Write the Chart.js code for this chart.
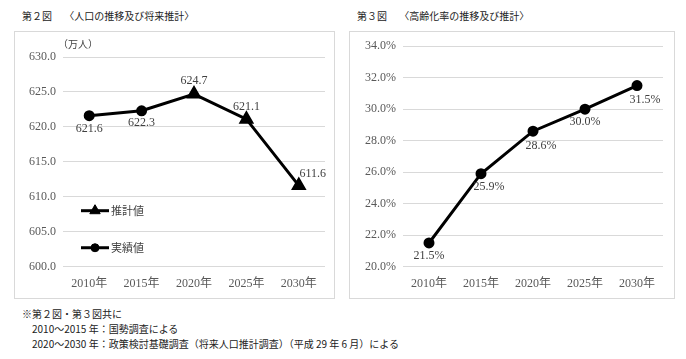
<!DOCTYPE html>
<html>
<head>
<meta charset="utf-8">
<script src="https://cdn.jsdelivr.net/npm/chart.js@4.4.1/dist/chart.umd.min.js"></script>
<style>
  body { margin: 0; background: #fff; width: 686px; height: 359px; position: relative; overflow: hidden;
         font-family: "Noto Sans CJK JP", sans-serif; color: #222; }
  .ttl { position: absolute; top: 8px; font-size: 10px; white-space: pre; }
  .box { position: absolute; border: 1px solid #d9d9d9; top: 31px; height: 266px; }
  .box canvas { position: absolute; left: 0; top: 0; }
  .unit { position: absolute; font-size: 10px; color: #404040; }
  .note { position: absolute; font-size: 10px; white-space: pre; }
</style>
</head>
<body>
<div class="ttl" style="left:22px">第２図　 〈人口の推移及び将来推計〉</div>
<div class="ttl" style="left:357px">第３図　 〈高齢化率の推移及び推計〉</div>

<div class="box" style="left:14px; width:319px;">
  <canvas id="popChart" width="319" height="266"></canvas>
  <div class="unit" style="left:43px; top:4px;">（万人）</div>
</div>
<div class="box" style="left:349px; width:324px;">
  <canvas id="ageChart" width="324" height="266"></canvas>
</div>

<div class="note" style="left:22px; top:306px;">※第２図・第３図共に</div>
<div class="note" style="left:32px; top:321px;">2010～2015 年：国勢調査による</div>
<div class="note" style="left:32px; top:336px;">2020～2030 年：政策検討基礎調査（将来人口推計調査）（平成 29 年 6 月）による</div>

<script>
var years = ["2010年", "2015年", "2020年", "2025年", "2030年"];

// 第２図 人口（万人）
var popActual = [621.6, 622.3, null, null, null];
var popEstimate = [null, 622.3, 624.7, 621.1, 611.6];
var popLabels = ["621.6", "622.3", "624.7", "621.1", "611.6"];

// 第３図 高齢化率（%）
var agingRate = [21.5, 25.9, 28.6, 30.0, 31.5];
var agingLabels = ["21.5%", "25.9%", "28.6%", "30.0%", "31.5%"];

var serif = "'Liberation Serif', 'Noto Sans CJK JP', serif";
var tickColor = "#595959";

// where each value label sits relative to its point [dx, dy]
var popLabelPos = [[0, 13], [0, 12], [0, -13], [0, -12], [14, -12]];
var agingLabelPos = [[0, 13], [8, 13], [8, 15], [0, 13], [8, 14]];

function valueLabels(texts, pos) {
    return {
        id: "valueLabels",
        afterDatasetsDraw: function (chart) {
            var ctx = chart.ctx;
            var x = chart.scales.x, y = chart.scales.y;
            ctx.save();
            ctx.font = "12px " + serif;
            ctx.fillStyle = "#404040";
            ctx.textAlign = "center";
            ctx.textBaseline = "middle";
            texts.forEach(function (t, i) {
                var v = chart.data.datasets[0].data[i];
                if (v === null) v = chart.data.datasets[chart.data.datasets.length - 1].data[i];
                ctx.fillText(t, x.getPixelForValue(i) + pos[i][0], y.getPixelForValue(v) + pos[i][1]);
            });
            ctx.restore();
        }
    };
}

var popLegend = {
    id: "popLegend",
    afterDraw: function (chart) {
        var ctx = chart.ctx;
        var a = chart.chartArea;
        var items = [chart.data.datasets[1], chart.data.datasets[0]];
        var rows = [chart.scales.y.getPixelForValue(608.0), chart.scales.y.getPixelForValue(602.7)];
        ctx.save();
        items.forEach(function (ds, i) {
            var x0 = a.left + 18, x1 = a.left + 46, yy = rows[i];
            ctx.strokeStyle = "#000";
            ctx.fillStyle = "#000";
            ctx.lineWidth = 3;
            ctx.beginPath();
            ctx.moveTo(x0, yy);
            ctx.lineTo(x1, yy);
            ctx.stroke();
            ctx.lineWidth = 1;
            Chart.helpers.drawPoint(ctx, {
                pointStyle: ds.pointStyle, radius: ds.legendRadius, rotation: 0, borderWidth: 1
            }, (x0 + x1) / 2, yy);
            ctx.font = "11px 'Noto Sans CJK JP', sans-serif";
            ctx.fillStyle = "#404040";
            ctx.textAlign = "left";
            ctx.textBaseline = "middle";
            ctx.fillText(ds.label, x1 + 2, yy);
        });
        ctx.restore();
    }
};

function baseOptions(yMin, yMax, step, fmt, padRight, axisWidth, padTop) {
    return {
        responsive: false,
        animation: false,
        layout: { padding: { top: padTop, right: padRight, bottom: 5, left: 0 } },
        plugins: { legend: { display: false }, tooltip: { enabled: false } },
        scales: {
            x: {
                offset: true,
                grid: { display: false },
                border: { display: false },
                ticks: { color: tickColor, font: { family: serif, size: 12 }, padding: 2 }
            },
            y: {
                min: yMin, max: yMax,
                afterFit: function (s) { s.width = axisWidth; },
                grid: { color: "#d9d9d9", drawTicks: false },
                border: { display: false },
                ticks: {
                    stepSize: step, color: tickColor, padding: 7,
                    font: { family: serif, size: 12 },
                    callback: fmt
                }
            }
        }
    };
}

new Chart(document.getElementById("popChart"), {
    type: "line",
    data: {
        labels: years,
        datasets: [
            {
                label: "実績値", data: popActual,
                borderColor: "#000", backgroundColor: "#000", borderWidth: 3,
                pointStyle: "circle", pointRadius: 4, legendRadius: 4
            },
            {
                label: "推計値", data: popEstimate,
                borderColor: "#000", backgroundColor: "#000", borderWidth: 3,
                pointStyle: "triangle", legendRadius: 6,
                pointRadius: function (c) { return popActual[c.dataIndex] === null ? 6 : 0; }
            }
        ]
    },
    options: baseOptions(600, 630, 5, function (v) { return v.toFixed(1); }, 5, 48, 25),
    plugins: [valueLabels(popLabels, popLabelPos), popLegend]
});

new Chart(document.getElementById("ageChart"), {
    type: "line",
    data: {
        labels: years,
        datasets: [{
            label: "高齢化率", data: agingRate,
            borderColor: "#000", backgroundColor: "#000", borderWidth: 3,
            pointStyle: "circle", pointRadius: 4
        }]
    },
    options: baseOptions(20, 34, 2, function (v) { return v.toFixed(1) + "%"; }, 11, 53, 8),
    plugins: [valueLabels(agingLabels, agingLabelPos)]
});
</script>
</body>
</html>
